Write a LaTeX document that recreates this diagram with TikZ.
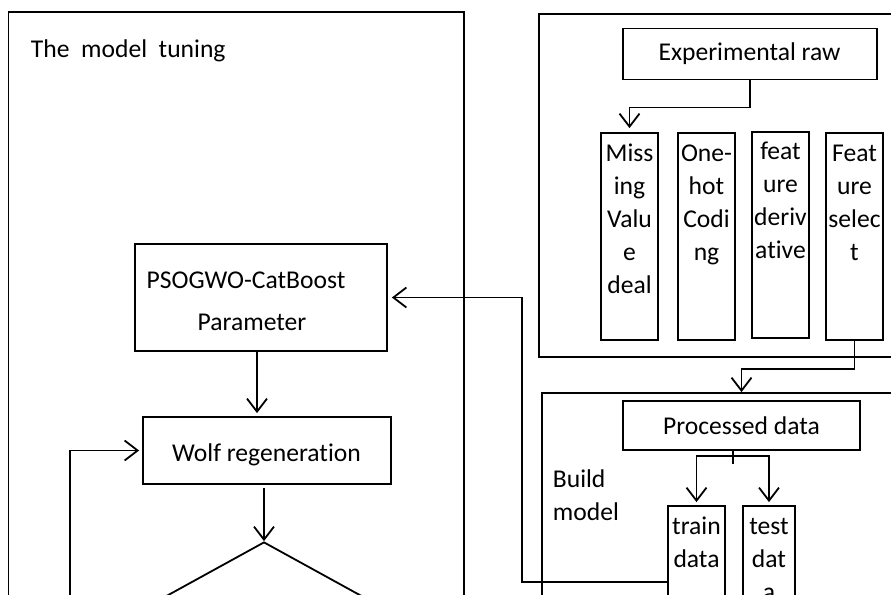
\documentclass[tikz,border=0pt]{standalone}
\usepackage{fontspec}
\setmainfont[Ligatures=NoCommon]{Carlito}
\usetikzlibrary{arrows.meta,shapes.geometric}
\begin{document}
\begin{tikzpicture}[x=1pt,y=-1pt,line width=1.8pt,
  box/.style={draw,inner sep=0pt,rectangle,line width=1.8pt},
  arr/.style={line width=1.8pt,-{Straight Barb[length=13pt,width=20pt]}},
  txt/.style={font=\fontsize{25.6}{33}\selectfont,inner sep=0pt,align=center},
  coltxt/.style={txt,anchor=north,yshift=-5pt}]
\useasboundingbox (0,0) rectangle (891,594);
\clip (0,0) rectangle (891,594);
% panels
\node[box,minimum width=455.5pt,minimum height=640pt] (tune) at (236.25,332) {};
\node[box,minimum width=361pt,minimum height=343pt] (prep) at (719.5,185.5) {};
\node[box,minimum width=358pt,minimum height=260pt] (build) at (721,523) {};
% panel titles
\node[txt,anchor=base west] (tunet) at (30,57) {The\ \ model\ \ tuning};
\node[txt,anchor=north west,align=left] (buildt) at (552,463) {\strut Build\\model};
% preprocessing boxes
\node[box,minimum width=254pt,minimum height=51pt] (exp) at (750,54) {};
\node[txt] (expt) at (749.5,54) {Experimental raw};
\node[box,minimum width=57pt,minimum height=207pt] (miss) at (629.5,236.5) {};
\node[box,minimum width=57pt,minimum height=207pt] (oneh) at (706.5,236.5) {};
\node[box,minimum width=57pt,minimum height=206pt] (deriv) at (780.5,235) {};
\node[box,minimum width=57pt,minimum height=207pt] (sel) at (854.5,236.5) {};
\node[coltxt] (misst) at (miss.north) {\strut Miss\\ing\\Valu\\e\\deal};
\node[coltxt] (oneht) at (oneh.north) {\strut One-\\hot\\Codi\\ng};
\node[coltxt,yshift=1pt] (derivt) at (deriv.north) {\strut feat\\ure\\deriv\\ative};
\node[coltxt] (selt) at (sel.north) {\strut Feat\\ure\\selec\\t};
% build model boxes
\node[box,minimum width=237pt,minimum height=49pt] (proc) at (741.5,425.5) {};
\node[txt] (proct) at (741.5,425.5) {Processed data};
\node[box,minimum width=57pt,minimum height=150pt] (train) at (696.5,581) {};
\node[box,minimum width=52pt,minimum height=150pt] (test) at (769,581) {};
\node[coltxt] (traint) at (train.north) {\strut train\\data};
\node[coltxt] (testt) at (test.north) {\strut test\\dat\\a};
% tuning boxes
\node[box,minimum width=252pt,minimum height=107pt] (pso) at (261,297.5) {};
\node[txt,anchor=base] (psot1) at (246,288) {PSOGWO-CatBoost};
\node[txt,anchor=base] (psot2) at (252,330) {Parameter};
\node[box,minimum width=248pt,minimum height=67pt] (wolf) at (267,450.5) {};
\node[txt,anchor=base] (wolft) at (266.5,461) {Wolf regeneration};
\node[draw,diamond,inner sep=0pt,line width=1.8pt,minimum width=254pt,minimum height=140pt] (dia) at (264,612) {};
% connectors
\draw[arr] (exp.south) -- ++(0,27) -| ([yshift=4pt]miss.north);
\draw[arr] (sel.south) -- ++(0,28) -| ([yshift=8pt]proc.north);
\coordinate (split) at (733,456);
\draw ([xshift=-8.5pt]proc.south) -- ++(0,13);
\draw[arr] (split) -| ([yshift=3pt]train.north);
\draw[arr] (split) -| ([yshift=3pt]test.north);
\draw[arr] ([xshift=-4pt]pso.south) -- ([xshift=-4pt,yshift=3pt]pso.south |- wolf.north);
\draw[arr] ([yshift=-3pt]dia.north |- wolf.south) -- (dia.north);
\coordinate (fb) at (70,610);
\draw[arr] (fb) |- ([xshift=-3pt]wolf.west);
\coordinate (bend) at (522,582);
\draw[arr] (train.west |- bend) -- (bend) |- ([xshift=4pt]pso.east);
\end{tikzpicture}
\end{document}
